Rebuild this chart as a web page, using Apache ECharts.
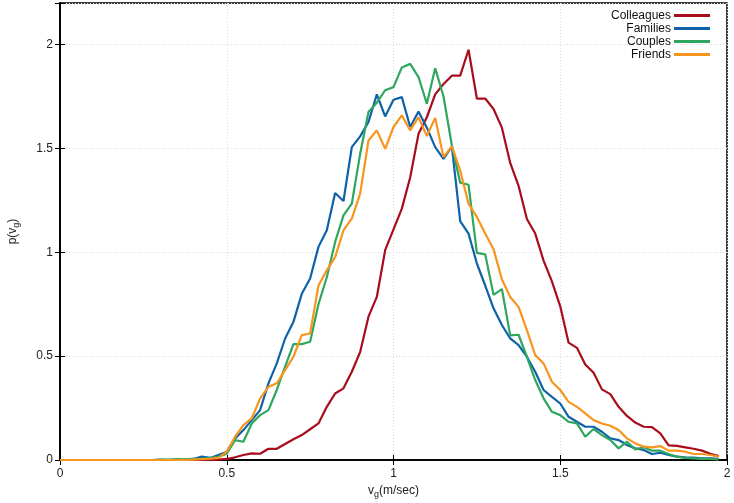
<!DOCTYPE html>
<html>
<head>
<meta charset="utf-8">
<script src="https://cdn.jsdelivr.net/npm/echarts@6/dist/echarts.min.js"></script>
<style>
html,body{margin:0;padding:0;background:#fff;}
#chart{width:734px;height:503px;}
</style>
</head>
<body>
<div id="chart"></div>
<script>
var xValues = [0,0.025,0.05,0.075,0.1,0.125,0.15,0.175,0.2,0.225,0.25,0.275,0.3,0.325,0.35,0.375,0.4,0.425,0.45,0.475,
0.5,0.525,0.55,0.575,0.6,0.625,0.65,0.675,0.7,0.725,0.75,0.775,0.8,0.825,0.85,0.875,0.9,0.925,0.95,0.975,
1,1.025,1.05,1.075,1.1,1.125,1.15,1.175,1.2,1.225,1.25,1.275,1.3,1.325,1.35,1.375,1.4,1.425,1.45,1.475,
1.5,1.525,1.55,1.575,1.6,1.625,1.65,1.675,1.7,1.725,1.75,1.775,1.8,1.825,1.85,1.875,1.9,1.925,1.95,1.975];

var colleagues = [0,0,0,0,0,0,0,0,0,0,0,0,0,0,0,0,0,0,0,0.002,
0.005,0.013,0.024,0.032,0.03,0.054,0.054,0.077,0.1,0.12,0.148,0.176,0.256,0.32,0.345,0.425,0.52,0.69,0.785,1.01,
1.11,1.21,1.36,1.57,1.65,1.76,1.81,1.85,1.85,1.975,1.74,1.74,1.69,1.6,1.43,1.32,1.16,1.09,0.96,0.86,
0.74,0.565,0.54,0.46,0.42,0.34,0.317,0.256,0.212,0.18,0.16,0.158,0.128,0.07,0.068,0.061,0.054,0.045,0.03,0.019];

var families = [0,0,0,0,0,0,0,0,0,0,0,0,0,0,0,0.002,0.005,0.016,0.01,0.024,
0.04,0.104,0.144,0.192,0.24,0.369,0.465,0.585,0.665,0.8,0.874,1.026,1.106,1.285,1.247,1.506,1.558,1.627,1.76,1.654,
1.734,1.747,1.603,1.678,1.6,1.506,1.45,1.51,1.15,1.09,0.946,0.84,0.73,0.65,0.585,0.553,0.497,0.425,0.337,0.304,
0.272,0.208,0.184,0.16,0.16,0.136,0.104,0.096,0.072,0.056,0.048,0.029,0.035,0.024,0.016,0.013,0.011,0.008,0.008,0.005];

var couples = [0,0,0,0,0,0,0,0,0,0,0,0,0.003,0.002,0.004,0.003,0.005,0.006,0.01,0.015,
0.03,0.096,0.088,0.176,0.216,0.24,0.337,0.449,0.558,0.558,0.569,0.75,0.88,1.05,1.178,1.234,1.474,1.675,1.72,1.78,
1.795,1.89,1.907,1.843,1.715,1.886,1.75,1.515,1.335,1.325,0.997,0.99,0.795,0.823,0.6,0.603,0.497,0.385,0.297,0.232,
0.216,0.184,0.176,0.112,0.149,0.12,0.096,0.056,0.088,0.051,0.061,0.045,0.045,0.029,0.016,0.01,0.008,0.005,0.005,0.003];

var friends = [0,0,0,0,0,0,0,0,0,0,0,0,0,0,0,0,0.002,0.004,0.006,0.01,
0.04,0.112,0.168,0.2,0.297,0.352,0.369,0.433,0.497,0.601,0.609,0.84,0.913,0.977,1.106,1.162,1.282,1.538,1.587,1.498,
1.603,1.659,1.587,1.65,1.56,1.647,1.458,1.51,1.394,1.234,1.17,1.09,1.015,0.87,0.785,0.737,0.625,0.505,0.465,0.377,
0.337,0.28,0.256,0.224,0.192,0.176,0.165,0.144,0.104,0.08,0.064,0.061,0.067,0.045,0.045,0.04,0.029,0.029,0.024,0.016];

var seriesNames = ['Colleagues','Families','Couples','Friends'];
var seriesColors = ['#a80d1c','#0f62a8','#2fa65e','#f7951f'];
var xTickValues = [0,0.5,1,1.5,2];
var xTickLabels = ['0','0.5','1','1.5','2'];
var yTickValues = [0,0.5,1,1.5,2];
var yTickLabels = ['0','0.5','1','1.5','2'];

function pairs(ys){ return ys.map(function(y,i){ return [xValues[i], y]; }); }
function fmt(vals, labels){
  return function(v){
    for (var i=0;i<vals.length;i++){ if (Math.abs(vals[i]-v)<1e-9) return labels[i]; }
    return '';
  };
}

var FONT = '"Liberation Sans", Arial, sans-serif';
var chart = echarts.init(document.getElementById('chart'), null, {renderer:'canvas'});
var dataSets = [colleagues, families, couples, friends];

var baseAxisLine = {show:true, lineStyle:{color:'#000', width:1.5}};
var tick = {show:true, inside:true, length:5, lineStyle:{color:'#000', width:1}};
var grid = {show:true, lineStyle:{color:'#d8d8d8', type:[1,2], width:1}};

chart.setOption({
  animation:false,
  backgroundColor:'#fff',
  textStyle:{fontFamily:FONT},
  grid:{left:60, right:7, top:3, bottom:43, show:true, borderColor:'#000', borderWidth:1.5, containLabel:false, outerBoundsMode:'none'},
  legend:{
    orient:'vertical', right:24, top:9, align:'right', padding:0,
    itemWidth:36, itemHeight:3, itemGap:0, icon:'rect',
    data:seriesNames,
    textStyle:{fontFamily:FONT, fontSize:12, color:'#111', lineHeight:13, padding:[0,-2,0,0]}
  },
  xAxis:[{
    type:'value', min:0, max:2, interval:0.5, position:'bottom',
    axisLine:baseAxisLine, axisTick:tick, splitLine:grid,
    axisLabel:{margin:8, fontSize:12, color:'#222', fontFamily:FONT, formatter:fmt(xTickValues,xTickLabels)},
    name:'{a|v}{b|g}{a|(m/sec)}', nameLocation:'middle', nameGap:21,
    nameTextStyle:{rich:{a:{fontSize:12, color:'#222', fontFamily:FONT}, b:{fontSize:9, color:'#222', fontFamily:FONT, padding:[8,0,0,0]}}}
  },{
    type:'value', min:0, max:2, interval:0.5, position:'top',
    axisLine:baseAxisLine, axisTick:tick, splitLine:{show:false}, axisLabel:{show:false}
  }],
  yAxis:[{
    type:'value', min:0, max:2.2, interval:0.5, position:'left',
    axisLine:baseAxisLine, axisTick:tick, splitLine:grid,
    axisLabel:{margin:7, fontSize:12, color:'#222', fontFamily:FONT, formatter:fmt(yTickValues,yTickLabels)},
    name:'{a|p(v}{b|g}{a|)}', nameLocation:'middle', nameGap:39, nameRotate:90,
    nameTextStyle:{rich:{a:{fontSize:12, color:'#222', fontFamily:FONT}, b:{fontSize:9, color:'#222', fontFamily:FONT, padding:[8,0,0,0]}}}
  },{
    type:'value', min:0, max:2.2, interval:0.5, position:'right',
    axisLine:baseAxisLine, axisTick:tick, splitLine:{show:false}, axisLabel:{show:false}
  }],
  series: seriesNames.map(function(n,i){
    return {
      name:n, type:'line', xAxisIndex:0, yAxisIndex:0,
      data:pairs(dataSets[i]), symbol:'none', smooth:false,
      lineStyle:{color:seriesColors[i], width:2.2}, itemStyle:{color:seriesColors[i]}
    };
  })
});
</script>
</body>
</html>
